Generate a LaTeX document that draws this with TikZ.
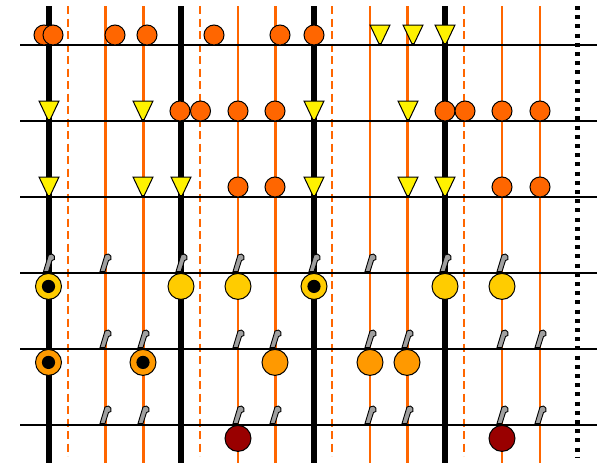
\documentclass[tikz,border=0pt]{standalone}
\definecolor{orng}{HTML}{FF6600}
\definecolor{gold}{HTML}{FFCC00}
\definecolor{midor}{HTML}{FF9900}
\definecolor{dred}{HTML}{990000}
\definecolor{slg}{HTML}{A0A0A0}
\begin{document}
\begin{tikzpicture}[x=1pt,y=-1pt,
  blackv/.style={line width=6pt},
  orthick/.style={orng,line width=3pt},
  orthin/.style={orng,line width=2pt},
  ordash/.style={orng,line width=2.5pt,dash pattern=on 8pt off 4.5pt},
  dotv/.style={line width=5pt,dash pattern=on 4pt off 5.2pt},
  hline/.style={line width=2.4pt},
  smc/.pic={\path[draw=black,line width=1pt,fill=orng] (0,-10) circle[radius=10];},
  tri/.pic={\path[draw=black,line width=1pt,fill=yellow,line join=miter] (-10,-20) -- (10,-20) -- (1.2,-1.5) -- (-1.2,-1.5) -- cycle;},
  bigc/.pic={\path[pic actions,draw=black,line width=1pt] (0,13.4) circle[radius=13];},
  ring/.pic={\path[pic actions,draw=black,line width=1pt] (0,13.4) circle[radius=13];
             \path[fill=black] (0,13.4) circle[radius=6.6];},
  slash/.pic={\path[draw=black,line width=0.9pt,fill=slg,line join=miter] (-5,-1.5) -- (0,-1.5) -- (3.5,-12.5) -- (5.8,-13.5) -- (5.8,-17) -- (3.5,-19) -- (0,-18) -- cycle;}
]
\useasboundingbox (0,0) rectangle (597,463);
% vertical lines
\foreach \x in {68,200,332,464} \draw[ordash] (\x,6) -- (\x,456);
\foreach \x in {105,143,275,407} \draw[orthick] (\x,6) -- (\x,463);
\foreach \x in {238,370,502,540} \draw[orthin] (\x,6) -- (\x,463);
\foreach \x in {48.5,181,314,445} \draw[blackv] (\x,6) -- (\x,463);
\draw[dotv] (577,6) -- (577,458);
% horizontal lines
\foreach \y in {45,121,197,273,349,425} \draw[hline] (20,\y) -- (597,\y);
% row 1
\foreach \x in {44,53,115,147,214,280,314} \pic at (\x,45) {smc};
\foreach \x in {380,413,445} \pic at (\x,45) {tri};
% row 2
\foreach \x in {49,143,314,408} \pic at (\x,121) {tri};
\foreach \x in {180,200.5,238,275,445,465,502,540} \pic at (\x,121) {smc};
% row 3
\foreach \x in {49,143,181,314,408,445} \pic at (\x,197) {tri};
\foreach \x in {238,275,502,540} \pic at (\x,197) {smc};
% row 4
\foreach \x in {48.5,105,181,238,314,370,445,502} \pic at (\x,273) {slash};
\foreach \x in {48.5,314} \pic[fill=gold] at (\x,273) {ring};
\foreach \x in {181,238,445,502} \pic[fill=gold] at (\x,273) {bigc};
% row 5
\foreach \x in {105,143,238,275,370,407,502,540} \pic at (\x,349) {slash};
\foreach \x in {48.5,143} \pic[fill=midor] at (\x,349) {ring};
\foreach \x in {275,370,407} \pic[fill=midor] at (\x,349) {bigc};
% row 6
\foreach \x in {105,143,238,275,370,407,502,540} \pic at (\x,425) {slash};
\foreach \x in {238,502} \pic[fill=dred] at (\x,425) {bigc};
\end{tikzpicture}
\end{document}
